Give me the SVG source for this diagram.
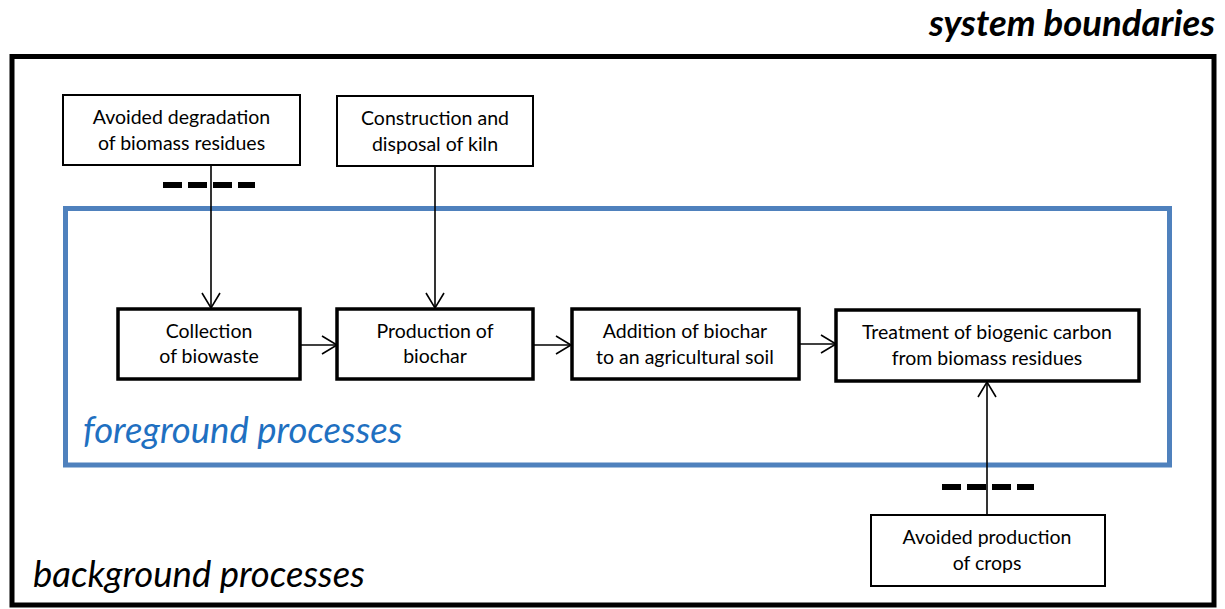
<svg xmlns="http://www.w3.org/2000/svg" width="1225" height="609" viewBox="0 0 1225 609">
<defs>
<marker id="arr" viewBox="0 0 20 20" refX="16" refY="10" markerWidth="20" markerHeight="20" markerUnits="userSpaceOnUse" orient="auto">
<path d="M1,1 L16,10 L1,19" fill="none" stroke="#000" stroke-width="1.6"/>
</marker>
<style>
.t{font-family:Lato,"Open Sans",sans-serif;font-size:19.5px;fill:#000;text-anchor:middle}
.thin{fill:#fff;stroke:#000;stroke-width:2}
.thick{fill:#fff;stroke:#000;stroke-width:3.5}
.c{stroke:#000;stroke-width:1.6;fill:none}
.dash{stroke:#000;stroke-width:6;stroke-dasharray:19 6;fill:none}
.big{font-family:Lato,"Open Sans",sans-serif;font-style:italic;font-size:36.5px}
</style>
</defs>
<rect width="1225" height="609" fill="#fff"/>
<g id="system-boundaries">
<rect x="12" y="56.5" width="1202" height="548.5" fill="none" stroke="#000" stroke-width="5"/>
<text class="big" x="1215" y="36" text-anchor="end" font-weight="bold">system boundaries</text>
<text class="big" x="33" y="587">background processes</text>
</g>
<g id="foreground">
<rect x="65.5" y="208.5" width="1104" height="256.5" fill="none" stroke="#4F81BD" stroke-width="5"/>
<text class="big" x="83" y="443" fill="#1F70C1">foreground processes</text>
</g>
<g id="connectors">
<line class="c" x1="211" y1="165" x2="211" y2="308" marker-end="url(#arr)"/>
<line class="c" x1="435" y1="166" x2="435" y2="308" marker-end="url(#arr)"/>
<line class="c" x1="300" y1="345" x2="337" y2="345" marker-end="url(#arr)"/>
<line class="c" x1="533" y1="345" x2="571" y2="345" marker-end="url(#arr)"/>
<line class="c" x1="799" y1="344" x2="836" y2="344" marker-end="url(#arr)"/>
<line class="c" x1="987" y1="515" x2="987" y2="382" marker-end="url(#arr)"/>
<line class="dash" x1="163" y1="185" x2="255" y2="185"/>
<line class="dash" x1="942" y1="487" x2="1034" y2="487"/>
</g>
<g id="avoided-degradation">
<rect class="thin" x="63" y="95" width="237" height="70"/>
<text class="t" x="181.5" y="124">Avoided degradation</text>
<text class="t" x="181.5" y="150">of biomass residues</text>
</g>
<g id="construction-kiln">
<rect class="thin" x="337" y="96" width="196" height="70"/>
<text class="t" x="435" y="125">Construction and</text>
<text class="t" x="435" y="151">disposal of kiln</text>
</g>
<g id="collection">
<rect class="thick" x="118" y="309" width="182" height="70"/>
<text class="t" x="209" y="338">Collection</text>
<text class="t" x="209" y="363">of biowaste</text>
</g>
<g id="production">
<rect class="thick" x="337" y="309" width="196" height="70"/>
<text class="t" x="435" y="338">Production of</text>
<text class="t" x="435" y="363">biochar</text>
</g>
<g id="addition">
<rect class="thick" x="572" y="309" width="227" height="70"/>
<text class="t" x="685" y="338">Addition of biochar</text>
<text class="t" x="685" y="364">to an agricultural soil</text>
</g>
<g id="treatment">
<rect class="thick" x="836" y="310" width="303" height="71"/>
<text class="t" x="987" y="339">Treatment of biogenic carbon</text>
<text class="t" x="987" y="365">from biomass residues</text>
</g>
<g id="avoided-crops">
<rect class="thin" x="871" y="515" width="234" height="71"/>
<text class="t" x="987" y="544">Avoided production</text>
<text class="t" x="987" y="570">of crops</text>
</g>
</svg>
